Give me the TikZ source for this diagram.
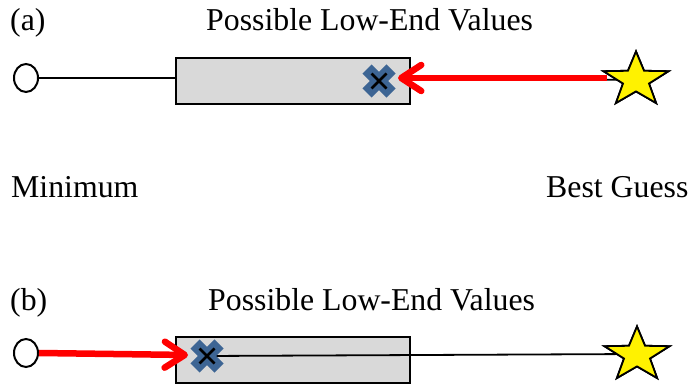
\documentclass[tikz,border=0pt]{standalone}
\usepackage{fontspec}
\setmainfont{Liberation Serif}
\usetikzlibrary{shapes.geometric,arrows.meta}
\definecolor{boxgray}{RGB}{217,217,217}
\definecolor{markblue}{RGB}{61,101,148}
\tikzset{
  lbl/.style={anchor=base west,inner sep=0pt,font=\fontsize{31.8}{38}\selectfont},
  endcirc/.style={ellipse,draw,line width=2pt,fill=white,minimum width=24pt,minimum height=28pt,inner sep=0pt},
  rangebox/.style={draw,line width=2pt,fill=boxgray,minimum width=234pt,minimum height=46pt,inner sep=0pt},
  guess/.style={star,star points=5,star point ratio=2.5,draw,line width=1.8pt,fill=yellow,minimum size=57pt,inner sep=0pt,xscale=1.2},
  thin/.style={line width=1.8pt},
  redarrow/.style={draw=red,line width=6.5pt,-{Straight Barb[length=20pt,width=26pt,round]}},
}
\newcommand{\xmark}[1]{%
  \draw[markblue,line width=13pt] ([shift={(-12pt,-12pt)}]#1) -- ([shift={(12pt,12pt)}]#1);
  \draw[markblue,line width=13pt] ([shift={(-12pt,12pt)}]#1) -- ([shift={(12pt,-12pt)}]#1);
  \draw[black,line width=2.8pt] ([shift={(-7.5pt,-7.5pt)}]#1) -- ([shift={(7.5pt,7.5pt)}]#1);
  \draw[black,line width=2.8pt] ([shift={(-7.5pt,7.5pt)}]#1) -- ([shift={(7.5pt,-7.5pt)}]#1);
}
\begin{document}
\begin{tikzpicture}[x=1pt,y=-1pt]
\useasboundingbox (0,0) rectangle (691,387);
% ---------- (a)
\node[lbl] (la) at (10,31) {(a)};
\node[lbl] (ta) at (206,31) {Possible Low-End Values};
\node[endcirc] (ca) at (26,78) {};
\node[rangebox] (ba) at (293,81) {};
\coordinate (xa) at (379,81);
\node[guess] (sa) at (636,80) {};
\draw[thin] (ca) -- (ca -| ba.west);
\draw[thin] (ba.east |- ca) -- (sa.center);
\xmark{xa}
\draw[redarrow] (607,78) coordinate (ra) -- (398,78);
\node[guess] at (sa) {};
% labels
\node[lbl] (mn) at (11,198) {Minimum};
\node[lbl] (bg) at (546,198) {Best Guess};
% ---------- (b)
\node[lbl] (lb) at (10,311) {(b)};
\node[lbl] (tb) at (208,311) {Possible Low-End Values};
\node[endcirc] (cb) at (26,353) {};
\node[rangebox] (bb) at (293,360) {};
\coordinate (xb) at (207,356);
\node[guess] (sb) at (637,355) {};
\draw[thin] (xb) -- (sb.center |- 0,354);
\node[guess] at (sb) {};
\xmark{xb}
\draw[redarrow] (cb.east) -- (188,355);
\end{tikzpicture}
\end{document}
